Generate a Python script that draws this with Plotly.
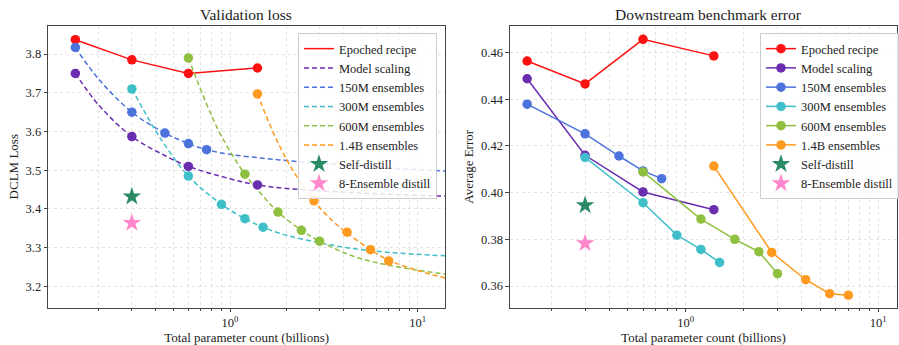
import plotly.graph_objects as go

# ---------------- data ----------------
sizes4 = [0.15, 0.3, 0.6, 1.4]
ens150_x = [0.15, 0.3, 0.45, 0.6, 0.75]
ens300_x = [0.3, 0.6, 0.9, 1.2, 1.5]
ens600_x = [0.6, 1.2, 1.8, 2.4, 3.0]
ens14_x = [1.4, 2.8, 4.2, 5.6, 7.0]
distill_x = [0.3]

# Validation loss
val_epoched = [3.837, 3.785, 3.750, 3.764]
val_model = [3.750, 3.587, 3.510, 3.462]
val_150 = [3.817, 3.650, 3.596, 3.569, 3.553]
val_300 = [3.710, 3.485, 3.412, 3.375, 3.353]
val_600 = [3.790, 3.490, 3.392, 3.345, 3.317]
val_14 = [3.697, 3.421, 3.340, 3.295, 3.266]
val_self = [3.432]
val_ens8 = [3.364]

# fitted trend curves
fit_model_x = [0.15, 0.2, 0.3, 0.45, 0.6, 1.0, 1.4, 2.0, 3.0, 5.0, 8.0, 14.0]
fit_model_y = [3.750, 3.668, 3.587, 3.538, 3.510, 3.478, 3.462, 3.453, 3.447, 3.441, 3.437, 3.433]
fit_150_x = [0.15, 0.2, 0.3, 0.45, 0.6, 0.75, 1.0, 1.5, 2.1, 3.0, 5.4, 8.0, 14.0]
fit_150_y = [3.817, 3.735, 3.650, 3.596, 3.569, 3.553, 3.541, 3.531, 3.524, 3.518, 3.510, 3.504, 3.498]
fit_300_x = [0.3, 0.39, 0.45, 0.6, 0.9, 1.2, 1.5, 2.0, 3.0, 4.2, 7.0, 14.0]
fit_300_y = [3.710, 3.612, 3.565, 3.485, 3.412, 3.375, 3.353, 3.332, 3.313, 3.300, 3.288, 3.279]
fit_600_x = [0.6, 0.75, 0.9, 1.2, 1.5, 1.8, 2.4, 3.0, 4.2, 5.6, 7.0, 10.0, 14.0]
fit_600_y = [3.790, 3.671, 3.588, 3.490, 3.433, 3.392, 3.345, 3.317, 3.284, 3.265, 3.255, 3.242, 3.232]
fit_14_x = [1.4, 1.7, 2.0, 2.23, 2.8, 3.5, 4.2, 5.6, 7.0, 10.0, 14.0]
fit_14_y = [3.697, 3.597, 3.528, 3.489, 3.421, 3.370, 3.338, 3.295, 3.268, 3.241, 3.222]

# Downstream benchmark error
err_epoched = [0.4564, 0.4466, 0.4657, 0.4586]
err_model = [0.4488, 0.4160, 0.4003, 0.3927]
err_150 = [0.4379, 0.4252, 0.4157, 0.4093, 0.4060]
err_300 = [0.4151, 0.3957, 0.3818, 0.3757, 0.3701]
err_600 = [0.4089, 0.3887, 0.3800, 0.3747, 0.3653]
err_14 = [0.4114, 0.3744, 0.3627, 0.3567, 0.3561]
err_self = [0.3946]
err_ens8 = [0.3783]

names = ["Epoched recipe", "Model scaling", "150M ensembles", "300M ensembles",
         "600M ensembles", "1.4B ensembles", "Self-distill", "8-Ensemble distill"]
colors = ["#FF1010", "#6A2DB0", "#4C72DB", "#3FBFC9", "#8FBF3F", "#FF9A20", "#2A8A66", "#FF88CC"]

left_xticks = [1, 10]
left_yticks = [3.2, 3.3, 3.4, 3.5, 3.6, 3.7, 3.8]
right_yticks = [0.36, 0.38, 0.40, 0.42, 0.44, 0.46]
xtick_text = ["10<sup>0</sup>", "10<sup>1</sup>"]
minor_x = [0.2, 0.3, 0.4, 0.5, 0.6, 0.7, 0.8, 0.9, 2, 3, 4, 5, 6, 7, 8, 9]

FONT = "Liberation Serif"
fig = go.Figure()

# ---------------- left panel ----------------
DASH = "5px,3px"
fig.add_trace(go.Scatter(x=sizes4, y=val_epoched, mode="lines", name=names[0],
                         line=dict(color=colors[0], width=1.5), xaxis="x", yaxis="y", legend="legend"))
fits = [(fit_model_x, fit_model_y), (fit_150_x, fit_150_y), (fit_300_x, fit_300_y),
        (fit_600_x, fit_600_y), (fit_14_x, fit_14_y)]
for i, (fx, fy) in enumerate(fits):
    fig.add_trace(go.Scatter(x=fx, y=fy, mode="lines", name=names[i + 1], line_shape="spline",
                             line=dict(color=colors[i + 1], width=1.5, dash=DASH),
                             xaxis="x", yaxis="y", legend="legend"))
pts = [(sizes4, val_epoched), (sizes4, val_model), (ens150_x, val_150), (ens300_x, val_300),
       (ens600_x, val_600), (ens14_x, val_14)]
for i, (px, py) in enumerate(pts):
    fig.add_trace(go.Scatter(x=px, y=py, mode="markers", showlegend=False,
                             marker=dict(color=colors[i], size=9.5),
                             xaxis="x", yaxis="y"))
fig.add_trace(go.Scatter(x=distill_x, y=val_self, mode="markers", name=names[6],
                         marker=dict(color=colors[6], size=14, symbol="star"),
                         xaxis="x", yaxis="y", legend="legend"))
fig.add_trace(go.Scatter(x=distill_x, y=val_ens8, mode="markers", name=names[7],
                         marker=dict(color=colors[7], size=14, symbol="star"),
                         xaxis="x", yaxis="y", legend="legend"))

# ---------------- right panel ----------------
rpts = [(sizes4, err_epoched), (sizes4, err_model), (ens150_x, err_150), (ens300_x, err_300),
        (ens600_x, err_600), (ens14_x, err_14)]
for i, (px, py) in enumerate(rpts):
    fig.add_trace(go.Scatter(x=px, y=py, mode="lines+markers", name=names[i],
                             line=dict(color=colors[i], width=1.5),
                             marker=dict(color=colors[i], size=9.5),
                             xaxis="x2", yaxis="y2", legend="legend2"))
fig.add_trace(go.Scatter(x=distill_x, y=err_self, mode="markers", name=names[6],
                         marker=dict(color=colors[6], size=14, symbol="star"),
                         xaxis="x2", yaxis="y2", legend="legend2"))
fig.add_trace(go.Scatter(x=distill_x, y=err_ens8, mode="markers", name=names[7],
                         marker=dict(color=colors[7], size=14, symbol="star"),
                         xaxis="x2", yaxis="y2", legend="legend2"))

W, H = 899, 345
ydom = [(H - 307.5) / H, (H - 26) / H]
GRID = "#E3E3E3"
AX = "#444444"

def xaxis(dom, rng):
    return dict(type="log", domain=dom, range=rng, tickvals=left_xticks, ticktext=xtick_text,
                showline=True, mirror=True, linecolor=AX, linewidth=1.2,
                ticks="outside", ticklen=3.5, tickcolor=AX, tickfont=dict(size=12.5, color="#222"),
                showgrid=True, gridcolor=GRID, griddash="3px,3px", gridwidth=0.8,
                minor=dict(tickvals=minor_x, ticks="outside", ticklen=2, tickcolor=AX,
                           showgrid=True, gridcolor=GRID, griddash="3px,3px", gridwidth=0.8),
                zeroline=False, automargin=False,
                title=dict(text="Total parameter count (billions)", font=dict(size=13, color="#222"),
                           standoff=3))

def yaxis(dom, rng, ticks, fmt, title, anchor):
    return dict(domain=dom, range=rng, tickvals=ticks, tickformat=fmt, anchor=anchor,
                showline=True, mirror=True, linecolor=AX, linewidth=1.2,
                ticks="outside", ticklen=3.5, tickcolor=AX, tickfont=dict(size=12.5, color="#222"),
                showgrid=True, gridcolor=GRID, griddash="3px,3px", gridwidth=0.8,
                zeroline=False, automargin=False,
                title=dict(text=title, font=dict(size=13, color="#222"), standoff=4))

LEG = dict(xanchor="left", yanchor="top", y=(H - 33) / H,
           bgcolor="rgba(255,255,255,0.85)", bordercolor="#CCCCCC", borderwidth=1,
           font=dict(size=12.5, family=FONT, color="#222"), tracegroupgap=0)

fig.update_layout(
    width=W, height=H,
    margin=dict(l=0, r=0, t=0, b=0),
    paper_bgcolor="white", plot_bgcolor="white",
    font=dict(family=FONT, color="#222"),
    xaxis=dict(xaxis([48.3 / W, 445 / W], [-0.968, 1.145]), anchor="y"),
    yaxis=yaxis(ydom, [3.1457, 3.8724], left_yticks, ".1f", "DCLM Loss", "x"),
    xaxis2=dict(xaxis([510 / W, 897 / W], [-0.913, 1.098]), anchor="y2"),
    yaxis2=yaxis(ydom, [0.3508, 0.4714], right_yticks, ".2f", "Average Error", "x2"),
    legend=dict(LEG, x=298 / W),
    legend2=dict(LEG, x=760 / W),
    annotations=[
        dict(text="Validation loss", x=246.5 / W, y=(H - 14) / H, xref="paper", yref="paper",
             showarrow=False, font=dict(size=15.5, family=FONT, color="#222"), xanchor="center", yanchor="middle"),
        dict(text="Downstream benchmark error", x=708.5 / W, y=(H - 14) / H, xref="paper",
             yref="paper", showarrow=False, font=dict(size=15.5, family=FONT, color="#222"),
             xanchor="center", yanchor="middle"),
    ],
)

fig.write_html("out.html", config={"displayModeBar": False},
               post_script="document.body.style.margin='0px';document.body.style.overflow='hidden';")
